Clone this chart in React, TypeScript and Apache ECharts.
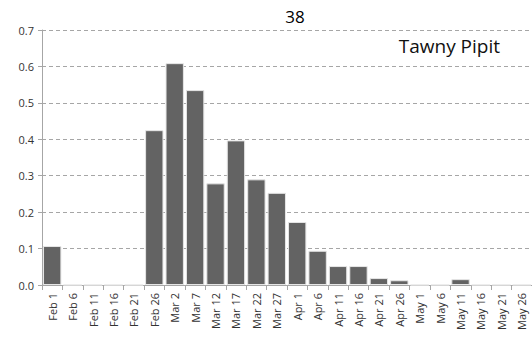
import React, { useEffect, useRef } from "react";
import * as echarts from "echarts";

const categories = [
  "Feb 1", "Feb 6", "Feb 11", "Feb 16", "Feb 21", "Feb 26",
  "Mar 2", "Mar 7", "Mar 12", "Mar 17", "Mar 22", "Mar 27",
  "Apr 1", "Apr 6", "Apr 11", "Apr 16", "Apr 21", "Apr 26",
  "May 1", "May 6", "May 11", "May 16", "May 21", "May 26",
];
const values = [
  0.107, 0, 0, 0, 0, 0.425,
  0.609, 0.535, 0.279, 0.397, 0.29, 0.253,
  0.173, 0.094, 0.052, 0.052, 0.019, 0.013,
  0, 0, 0.016, 0, 0, 0,
];
const titleText = "38";
const speciesName = "Tawny Pipit";

export default function App() {
  const ref = useRef<HTMLDivElement>(null);
  useEffect(() => {
    if (!ref.current) return;
    const chart = echarts.init(ref.current, undefined, { renderer: "svg" });
    const font = "'Open Sans', 'Noto Sans', sans-serif";
    chart.setOption({
      animation: false,
      textStyle: { fontFamily: font },
      title: {
        text: titleText,
        left: 290,
        top: 3,
        textAlign: "center",
        textStyle: { fontSize: 17, fontWeight: "normal", color: "#000", fontFamily: font },
      },
      graphic: [
        {
          type: "text",
          right: 32,
          top: 36,
          style: { text: speciesName, fontSize: 19, fill: "#111", fontFamily: font },
        },
      ],
      grid: { left: 42, right: 0, top: 30, bottom: 56, containLabel: false },
      xAxis: {
        type: "category",
        data: categories,
        axisLine: { show: true, lineStyle: { color: "#a6a6a6", width: 1 } },
        axisTick: { show: true, alignWithLabel: false, length: 5, lineStyle: { color: "#a6a6a6" } },
        axisLabel: { rotate: 90, fontSize: 11, color: "#333", margin: 8, interval: 0, fontFamily: font },
        splitLine: { show: false },
      },
      yAxis: {
        type: "value",
        min: 0,
        max: 0.7,
        interval: 0.1,
        axisLine: { show: true, lineStyle: { color: "#a6a6a6", width: 1 } },
        axisTick: { show: true, length: 4, lineStyle: { color: "#a6a6a6" } },
        axisLabel: {
          fontSize: 11,
          color: "#333",
          margin: 8,
          fontFamily: font,
          formatter: (v: number) => v.toFixed(1),
        },
        splitLine: { show: true, lineStyle: { color: "#a6a6a6", type: [4, 3], width: 1 } },
      },
      series: [
        {
          type: "bar",
          data: values,
          barCategoryGap: "10%",
          itemStyle: { color: "#636363", borderColor: "#e6e6e6", borderWidth: 1 },
        },
      ],
    });
    return () => chart.dispose();
  }, []);
  return <div ref={ref} style={{ width: 532, height: 341, position: "absolute", left: 0, top: 0 }} />;
}
